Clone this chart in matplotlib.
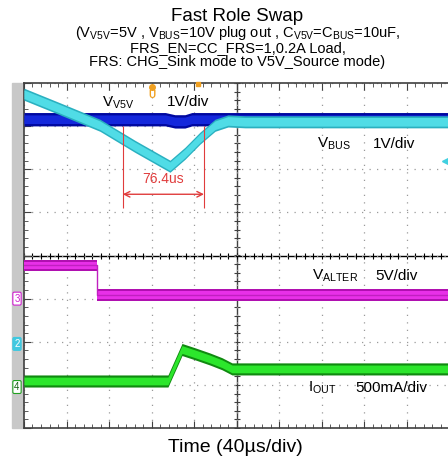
import numpy as np
import matplotlib.pyplot as plt
from matplotlib.patches import Rectangle

plt.rcParams['font.family'] = ['Liberation Sans', 'DejaVu Sans']
plt.rcParams['mathtext.fontset'] = 'custom'
plt.rcParams['mathtext.rm'] = 'Liberation Sans'

# scope traces: time in us (40us/div), levels in screen divisions
t_v5v = [-200, -166, -128.5, -95.5, -62.6, -48.5, -34.4, -20.2, -8.0, 8.0, 200]
v5v = [3.74, 3.40, 3.02, 2.53, 2.07, 2.37, 2.72, 3.02, 3.12, 3.10, 3.10]

t_vbus = [-200, -67, -58, -48.5, -42, 200]
vbus = [3.16, 3.16, 3.11, 3.11, 3.16, 3.16]

t_valter = [-200, -131, 200]
valter = [-0.23, -0.91, -0.91]

t_iout = [-200, -64.5, -51.3, -39, -25, -13.6, -4.2, 200]
iout = [-2.91, -2.91, -2.18, -2.28, -2.40, -2.51, -2.63, -2.63]

# FRS time measurement cursors (us)
cursor_a = -107.0
cursor_b = cursor_a + 76.4

fig = plt.figure(figsize=(4.48, 4.68), dpi=100)
ax = fig.add_axes([24/448, 40/468, 425/448, 345/468])
ax.set_xlim(-200, 200)
ax.set_ylim(-4, 4)

# gray channel strip on the left
fig.add_artist(Rectangle((12/448, 40/468), 12/448, 345/468, transform=fig.transFigure,
                         color='#c8c8c8', zorder=0))

# graticule
ax.set_xticks(np.arange(-200, 201, 40))
ax.set_yticks(np.arange(-4, 5, 1))
ax.set_xticks(np.arange(-200, 201, 8), minor=True)
ax.set_yticks(np.arange(-4, 4.01, 0.2), minor=True)
ax.grid(True, which='major', color='#9a9a9a', ls=(0, (1, 5)), lw=0.9)
ax.tick_params(which='both', direction='in', top=True, bottom=True, left=True, right=False,
               labelleft=False, labelbottom=False, color='#404040')
ax.tick_params(which='major', length=5)
ax.tick_params(which='minor', length=3)
for s in ['top', 'bottom', 'left']:
    ax.spines[s].set_color('#404040')
    ax.spines[s].set_linewidth(1.2)
ax.spines['right'].set_visible(False)

ax.axhline(0, color='k', lw=1, zorder=1)
ax.axvline(0, color='#404040', lw=1, zorder=1)
mt = np.arange(-200, 201, 8)
ax.plot(mt, np.zeros(len(mt)), ls='none', marker='|', ms=5, color='k', mew=0.8, zorder=1)
my = np.arange(-4, 4.01, 0.2)
ax.plot(np.zeros(len(my)), my, ls='none', marker='_', ms=5, color='#404040', mew=0.8, zorder=1)

# traces
vb = np.array(vbus)
ax.fill_between(t_vbus, vb - 0.155, vb + 0.155, color='#0008a0', lw=0, zorder=3)
ax.fill_between(t_vbus, vb - 0.10, vb + 0.10, color='#1428dc', lw=0, zorder=3)

v5 = np.array(v5v)
ax.fill_between(t_v5v, v5 - 0.14, v5 + 0.14, color='#2ab0c0', lw=0, zorder=4)
ax.fill_between(t_v5v, v5 - 0.10, v5 + 0.10, color='#50dce6', lw=0, zorder=4)

va = np.array(valter)
ax.fill_between(t_valter, va - 0.135, va + 0.135, step='post', color='#b010b0', lw=0, zorder=3)
ax.fill_between(t_valter, va - 0.09, va + 0.09, step='post', color='#e830e8', lw=0, zorder=3)
ax.plot(t_valter, valter, drawstyle='steps-post', color='#c020c0', lw=1, zorder=3)

io = np.array(iout)
ax.fill_between(t_iout, io - 0.14, io + 0.14, color='#108a10', lw=0, zorder=3)
ax.fill_between(t_iout, io - 0.09, io + 0.09, color='#2ce62c', lw=0, zorder=3)

# measurement annotation
red = '#e03c3c'
ax.vlines([cursor_a, cursor_b], 1.09, 3.0, color=red, lw=0.8, zorder=5)
ax.annotate('', xy=(cursor_a, 1.42), xytext=(cursor_b, 1.42),
            arrowprops=dict(arrowstyle='<->', color=red, lw=1, shrinkA=0, shrinkB=0), zorder=5)
ax.text((cursor_a + cursor_b) / 2, 1.77, '76.4us', color=red, fontsize=10, ha='center', va='center', zorder=5)

# trigger markers and channel markers
orange = '#f0a020'
ax.plot(-80, 3.9, marker='o', ms=4, color=orange, clip_on=False, zorder=6)
ax.text(-80, 3.72, 'U', color=orange, fontsize=7, fontweight='bold', ha='center', va='center', zorder=6)
ax.plot(-36, 3.97, marker='s', ms=3, color=orange, clip_on=False, zorder=6)
ax.plot(196, 2.19, marker='<', ms=4, color='#40d0e0', zorder=6)

ytr = ax.get_yaxis_transform()
ax.text(-0.0165, -1.0, '3', transform=ytr, color='#d020d0', fontsize=7, ha='center', va='center',
        bbox=dict(boxstyle='round,pad=0.15', fc='white', ec='#d020d0', lw=0.8), clip_on=False)
ax.text(-0.0165, -2.05, '2', transform=ytr, color='white', fontsize=7, ha='center', va='center',
        bbox=dict(boxstyle='round,pad=0.15', fc='#40c8e0', ec='#40c8e0', lw=0.8), clip_on=False)
ax.text(-0.0165, -3.05, '4', transform=ytr, color='#106010', fontsize=7, ha='center', va='center',
        bbox=dict(boxstyle='round,pad=0.15', fc='white', ec='#20a020', lw=0.8), clip_on=False)

# channel labels
lab = dict(fontsize=11, va='baseline', ha='left', zorder=7)
ax.text(-126.5, 3.47, r'V$_{\mathrm{V5V}}$', **lab)
ax.text(-65.4, 3.47, '1V/div', **lab)
ax.text(75.8, 2.50, r'V$_{\mathrm{BUS}}$', **lab)
ax.text(128.5, 2.50, '1V/div', **lab)
ax.text(71, -0.56, r'V$_{\mathrm{ALTER}}$', **lab)
ax.text(130.4, -0.56, '5V/div', **lab)
ax.text(67.3, -3.16, r'I$_{\mathrm{OUT}}$', **lab)
ax.text(111.5, -3.16, '500mA/div', **lab)

# titles
fig.text(0.53, 0.955, 'Fast Role Swap', fontsize=13.5, ha='center', va='baseline')
fig.text(0.53, 0.921, r'(V$_{\mathrm{V5V}}$=5V , V$_{\mathrm{BUS}}$=10V plug out , C$_{\mathrm{V5V}}$=C$_{\mathrm{BUS}}$=10uF,',
         fontsize=10.5, ha='center', va='baseline')
fig.text(0.53, 0.8895, 'FRS_EN=CC_FRS=1,0.2A Load,', fontsize=10.5, ha='center', va='baseline')
fig.text(0.53, 0.8596, 'FRS: CHG_Sink mode to V5V_Source mode)', fontsize=10.5, ha='center', va='baseline')
fig.text(0.525, 0.034, 'Time (40µs/div)', fontsize=14, ha='center', va='baseline')

fig.savefig('out.png', dpi=100)
